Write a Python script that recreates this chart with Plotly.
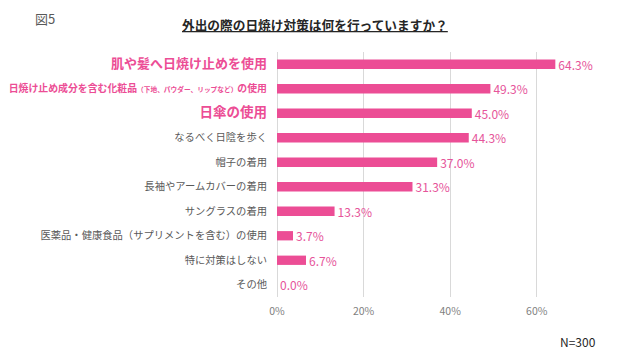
import plotly.graph_objects as go

categories = [
    "肌や髪へ日焼け止めを使用",
    "日焼け止め成分を含む化粧品（下地、パウダー、リップなど）の使用",
    "日傘の使用",
    "なるべく日陰を歩く",
    "帽子の着用",
    "長袖やアームカバーの着用",
    "サングラスの着用",
    "医薬品・健康食品（サプリメントを含む）の使用",
    "特に対策はしない",
    "その他",
]
values = [64.3, 49.3, 45.0, 44.3, 37.0, 31.3, 13.3, 3.7, 6.7, 0.0]
tick_vals = [0, 20, 40, 60]
tick_text = ["0%", "20%", "40%", "60%"]

PINK = "#EC4D95"
LABEL_PINK = "#E6549A"
GRAY = "#595959"
FONT = "Noto Sans CJK JP"

tick_labels = [
    f'<b><span style="color:{PINK};font-size:13px">肌や髪へ日焼け止めを使用</span></b>',
    f'<b><span style="color:{PINK};font-size:9.9px">日焼け止め成分を含む化粧品</span>'
    f'<span style="color:{PINK};font-size:6.7px">（下地、パウダー、リップなど）</span>'
    f'<span style="color:{PINK};font-size:9.9px">の使用</span></b>',
    f'<b><span style="color:{PINK};font-size:13.5px">日傘の使用</span></b>',
] + categories[3:]

fig = go.Figure(
    go.Bar(
        x=values,
        y=categories,
        orientation="h",
        marker=dict(color=PINK, line=dict(width=0)),
        width=0.38,
        text=[f"{v:.1f}%" for v in values],
        textposition="outside",
        constraintext="none",
        textfont=dict(color=LABEL_PINK, size=12, family=FONT),
        cliponaxis=False,
        hoverinfo="skip",
    )
)

fig.update_layout(
    width=618,
    height=356,
    margin=dict(l=277, r=38, t=52, b=59),
    paper_bgcolor="white",
    plot_bgcolor="white",
    font=dict(family=FONT, color=GRAY, size=10.3),
    showlegend=False,
)

fig.update_xaxes(
    range=[0, 70],
    tickvals=tick_vals,
    ticktext=tick_text,
    showgrid=True,
    gridcolor="#D9D9D9",
    gridwidth=1,
    zeroline=True,
    zerolinecolor="#D9D9D9",
    zerolinewidth=1,
    showline=False,
    tickfont=dict(color="#7F7F7F", size=10.5, family=FONT),
    ticklabelstandoff=6,
    automargin=False,
    fixedrange=True,
)
fig.update_yaxes(
    autorange="reversed",
    tickmode="array",
    tickvals=categories,
    ticktext=tick_labels,
    showgrid=False,
    showline=False,
    ticks="",
    ticklabelstandoff=9,
    tickfont=dict(color=GRAY, size=10.3, family=FONT),
    automargin=False,
    fixedrange=True,
)

fig.add_annotation(
    text="<u>外出の際の日焼け対策は何を行っていますか？</u>",
    xref="paper", yref="paper",
    x=(315 - 277) / (618 - 277 - 38), y=1,
    yshift=28,
    showarrow=False,
    font=dict(family=FONT, size=12.7, color="#262626", weight="bold"),
    xanchor="center", yanchor="middle",
)
fig.add_annotation(
    text="図5",
    xref="paper", yref="paper",
    x=(33 - 277) / (618 - 277 - 38), y=1,
    yshift=34,
    showarrow=False,
    font=dict(family=FONT, size=13, color="#595959"),
    xanchor="left", yanchor="middle",
)
fig.add_annotation(
    text="N=300",
    xref="paper", yref="paper",
    x=(598 - 277) / (618 - 277 - 38), y=0,
    yshift=-44,
    showarrow=False,
    font=dict(family=FONT, size=12, color="#262626"),
    xanchor="right", yanchor="middle",
)

fig.write_html(
    "out.html",
    config={"displayModeBar": False, "staticPlot": True},
    post_script="document.body.style.margin='0';document.body.style.overflow='hidden';",
)
